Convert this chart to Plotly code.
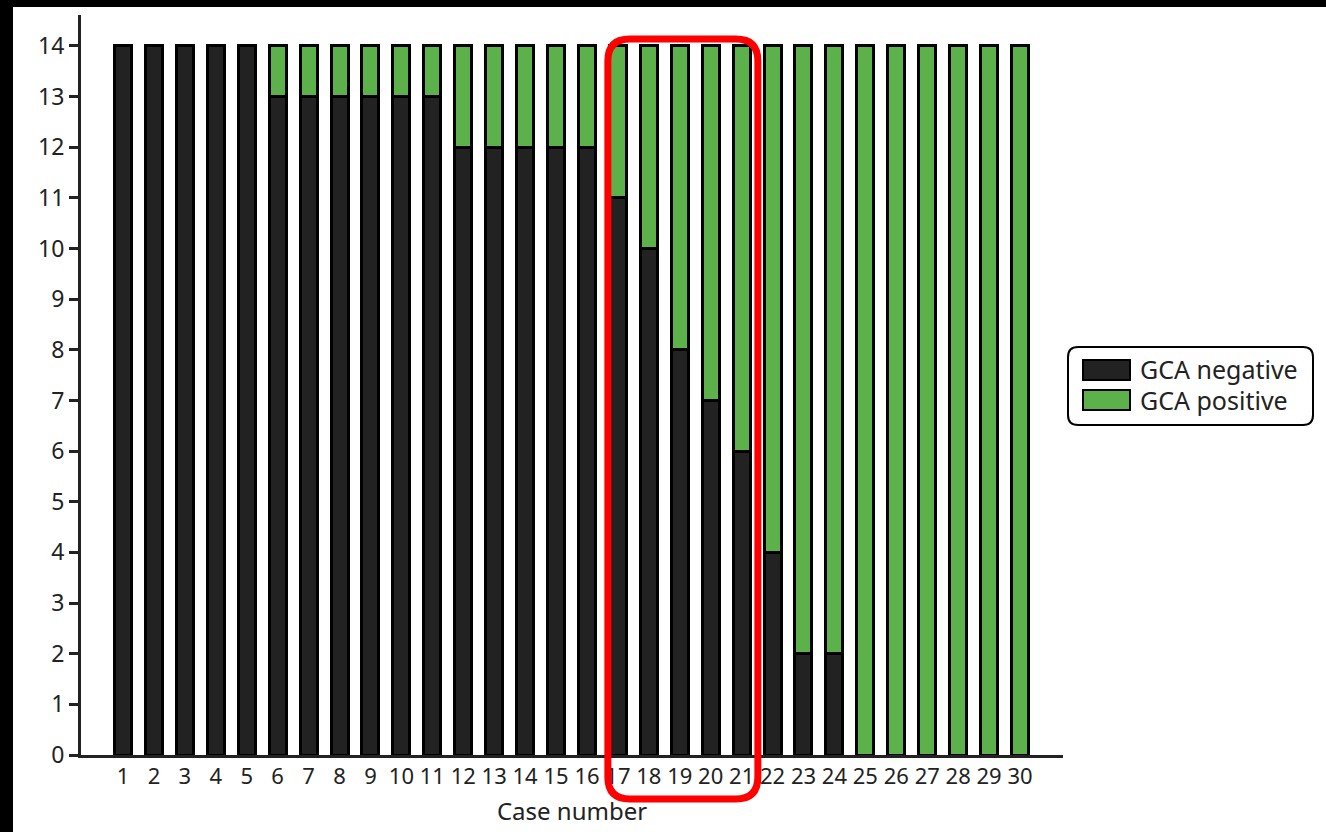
import plotly.graph_objects as go

# ---- data ----
cases = list(range(1, 31))
gca_negative = [14, 14, 14, 14, 14, 13, 13, 13, 13, 13, 13, 12, 12, 12, 12, 12,
                11, 10, 8, 7, 6, 4, 2, 2, 0, 0, 0, 0, 0, 0]
gca_positive = [14 - v for v in gca_negative]
y_ticks = list(range(0, 15))
series_names = ["GCA negative", "GCA positive"]

NEG_COLOR = "#222222"
POS_COLOR = "#5DB14A"
FONT = "Noto Sans"
TXT = "#222222"

W, H = 1326, 832
L, R, T, B = 81, 263, 15, 77
PW, PH = W - L - R, H - T - B


def px_x(px):
    return (px - L) / PW


def px_y(py):
    return (H - B - py) / PH


def rrect(w, h, r):
    a, b = w / 2, h / 2
    return (f"M{-a + r},{-b} L{a - r},{-b} Q{a},{-b} {a},{-b + r} "
            f"L{a},{b - r} Q{a},{b} {a - r},{b} L{-a + r},{b} "
            f"Q{-a},{b} {-a},{b - r} L{-a},{-b + r} Q{-a},{-b} {-a + r},{-b} Z")


fig = go.Figure()
fig.add_trace(go.Bar(x=cases, y=gca_negative, name=series_names[0],
                     marker=dict(color=NEG_COLOR, line=dict(color="#000000", width=3)),
                     width=0.55, showlegend=False))
fig.add_trace(go.Bar(x=cases, y=gca_positive, name=series_names[1],
                     marker=dict(color=POS_COLOR, line=dict(color="#000000", width=3)),
                     width=0.55, showlegend=False))

shapes = []
# black frame strips (top and left)
shapes.append(dict(type="rect", xref="paper", yref="paper", layer="above",
                   x0=px_x(0), x1=px_x(W), y0=px_y(7), y1=px_y(0),
                   fillcolor="#000000", line=dict(width=0)))
shapes.append(dict(type="rect", xref="paper", yref="paper", layer="above",
                   x0=px_x(0), x1=px_x(13), y0=px_y(H), y1=px_y(0),
                   fillcolor="#000000", line=dict(width=0)))
# red highlight box
shapes.append(dict(type="path", xref="x", yref="paper", layer="above",
                   xsizemode="pixel", ysizemode="pixel",
                   xanchor=19.1, yanchor=px_y(419),
                   path=rrect(150, 760, 22),
                   line=dict(color="#FF0000", width=7)))
# legend box
shapes.append(dict(type="path", xref="paper", yref="paper",
                   xsizemode="pixel", ysizemode="pixel",
                   xanchor=px_x(1190.5), yanchor=px_y(386),
                   path=rrect(245, 78, 10),
                   line=dict(color="#000000", width=2), fillcolor="white"))
# legend swatches
for (y0, y1), col in zip([(360, 380), (390, 410)], [NEG_COLOR, POS_COLOR]):
    shapes.append(dict(type="rect", xref="paper", yref="paper", layer="above",
                       x0=px_x(1083), x1=px_x(1130), y0=px_y(y1), y1=px_y(y0),
                       fillcolor=col, line=dict(color="#000000", width=2)))

annotations = []
for name, cy in zip(series_names, [369, 400]):
    annotations.append(dict(text=name, xref="paper", yref="paper",
                            x=px_x(1138), y=px_y(cy), xanchor="left", yanchor="middle",
                            showarrow=False, font=dict(family=FONT, size=25, color=TXT)))

fig.update_layout(
    width=W, height=H,
    margin=dict(l=L, r=R, t=T, b=B, autoexpand=False),
    barmode="stack",
    paper_bgcolor="white", plot_bgcolor="white",
    font=dict(family=FONT, size=23, color=TXT),
    shapes=shapes, annotations=annotations,
    showlegend=False,
)
fig.update_xaxes(range=[-0.358, 31.39], tickmode="array", tickvals=cases,
                 ticktext=[str(c) for c in cases],
                 ticks="",
                 showline=True, linecolor="#222222", linewidth=3,
                 showgrid=False, zeroline=False,
                 tickfont=dict(family=FONT, size=22, color=TXT),
                 title=dict(text="Case number", standoff=14,
                            font=dict(family=FONT, size=24, color=TXT)))
fig.update_yaxes(range=[0, 14.61], tickmode="array", tickvals=y_ticks,
                 ticks="outside", ticklen=9, tickwidth=3, tickcolor="#222222",
                 showline=True, linecolor="#222222", linewidth=3,
                 showgrid=False, zeroline=False,
                 tickfont=dict(family=FONT, size=23, color=TXT))

fig.write_html("out.html",
               config={"displayModeBar": False},
               post_script="document.body.style.margin='0';document.body.style.overflow='hidden';")
